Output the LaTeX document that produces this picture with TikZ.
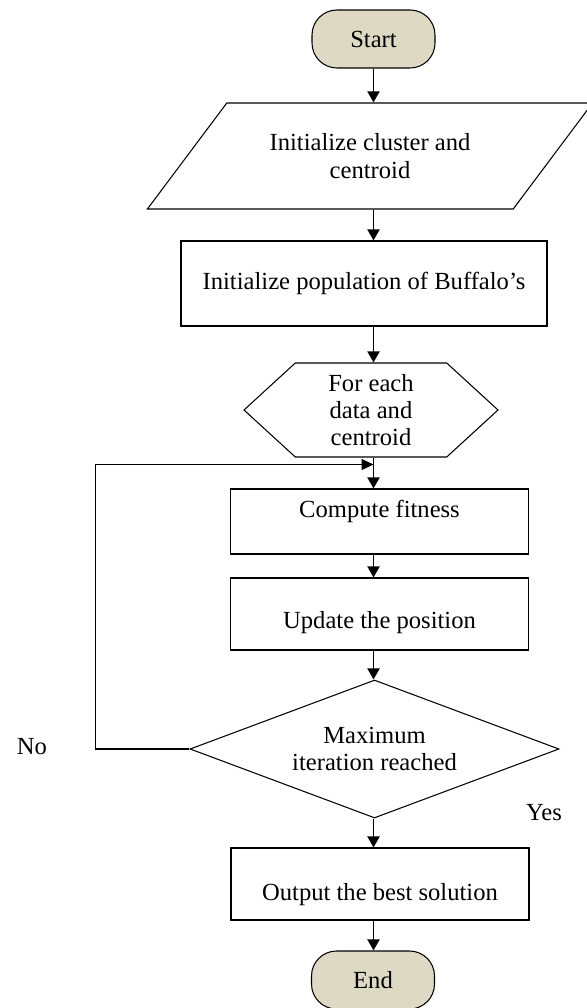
\documentclass[tikz,border=0pt]{standalone}
\usepackage{fontspec}
\setmainfont{Liberation Serif}
\usetikzlibrary{positioning}
\usetikzlibrary{shapes, arrows.meta}
\definecolor{termfill}{HTML}{DDD9C3}

\begin{document}
\begin{tikzpicture}[node distance = 2cm, auto, font=\fontsize{14}{15.5}\selectfont]
    \tikzstyle{term} = [rectangle, draw, fill=termfill, rounded corners=0.5cm,
    minimum width=2.46cm, minimum height=1.16cm, line width=0.6pt]
    \tikzstyle{io} = [trapezium, trapezium left angle=43.7, trapezium right angle=136.3,
    trapezium stretches=true, draw, align=center, minimum width=8.92cm, minimum height=2.12cm, line width=0.6pt]
    \tikzstyle{block} = [rectangle, draw, line width=0.6pt, minimum width=5.96cm]
    \tikzstyle{prep} = [signal, signal to=west and east, signal pointer angle=85, draw,
    align=center, minimum width=5.08cm, minimum height=1.88cm, line width=0.6pt]
    \tikzstyle{decision} = [diamond, draw, align=center, aspect=2.67, inner sep=0pt,
    minimum width=7.38cm, minimum height=2.76cm, line width=0.6pt]
    \tikzstyle{line} = [draw, line width=1.1pt, -{Triangle[length=0.22cm, width=0.24cm]}]
    \tikzstyle{back} = [draw, line width=0.6pt, -{Triangle[length=0.24cm, width=0.22cm]}]
    \useasboundingbox (0,0) rectangle (11.72,-20.16);
    \node [term] (start) at (7.47,-0.78) {Start};
    \node [io, below of=start, node distance=2.34cm, xshift=-0.07cm] (init) {Initialize cluster and\\centroid};
    \node [block, below of=init, node distance=2.55cm, xshift=-0.12cm, minimum width=7.32cm,
    minimum height=1.70cm] (pop) {Initialize population of Buffalo’s};
    \node [prep, below of=pop, node distance=2.53cm, xshift=0.14cm] (each) {For each\\data and\\centroid};
    \node [block, below of=each, node distance=2.23cm, xshift=0.17cm, minimum height=1.30cm,
    text depth=0.51cm] (fit) {Compute fitness};
    \node [block, below of=fit, node distance=1.85cm, minimum height=1.44cm, text height=0.70cm] (move) {Update the position};
    \node [decision, below of=move, node distance=2.70cm, xshift=-0.10cm] (maxit) {Maximum\\iteration reached};
    \node [block, below of=maxit, node distance=2.70cm, xshift=0.11cm, minimum height=1.44cm,
    text height=0.78cm] (best) {Output the best solution};
    \node [term, below of=best, node distance=1.92cm, xshift=-0.14cm] (end) {End};
    \node (no) at (0.64,-14.94) {No};
    \node (yes) at (10.88,-16.26) {Yes};
    \coordinate (join) at ([yshift=-0.14cm]start |- each.south);
    \path [line] (start.south) -- (start |- init.north);
    \path [line] (start |- init.south) -- (start |- pop.north);
    \path [line] (start |- pop.south) -- (start |- each.north);
    \path [line] (start |- each.south) -- (start |- fit.north);
    \path [line] (start |- fit.south) -- (start |- move.north);
    \path [line] (start |- move.south) -- (start |- maxit.north);
    \path [line] (start |- maxit.south) -- (start |- best.north);
    \path [line] (start |- best.south) -- (start |- end.north);
    \path [back] (maxit.west) -- ++(-1.88,0) |- (join);
\end{tikzpicture}
\end{document}
